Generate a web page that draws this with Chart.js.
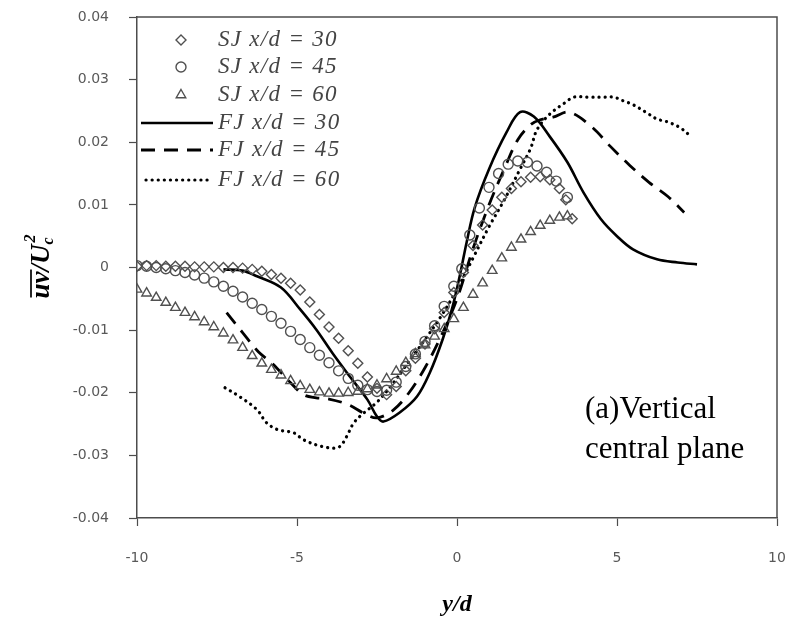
<!DOCTYPE html>
<html>
<head>
<meta charset="utf-8">
<script src="https://cdn.jsdelivr.net/npm/chart.js@4.4.0/dist/chart.umd.min.js"></script>
<style>
  html, body { margin: 0; padding: 0; background: #fff; }
  #wrap { width: 794px; height: 638px; }
</style>
</head>
<body>
<div id="wrap"><canvas id="chart" width="794" height="638"></canvas></div>
<script>
// ── DATA ───────────────────────────────────────────────
const X_TICKS = [-10, -5, 0, 5, 10];
const Y_TICKS = [-0.04, -0.03, -0.02, -0.01, 0, 0.01, 0.02, 0.03, 0.04];

// SJ x/d = 30 (diamonds)
const SJ30_X = [-10, -9.7, -9.4, -9.1, -8.8, -8.5, -8.2, -7.9, -7.6, -7.3, -7.0, -6.7, -6.4, -6.1, -5.8, -5.5, -5.2, -4.9, -4.6, -4.3, -4.0, -3.7, -3.4, -3.1, -2.8, -2.5, -2.2, -1.9, -1.6, -1.3, -1.0, -0.7, -0.4, -0.1, 0.2, 0.5, 0.8, 1.1, 1.4, 1.7, 2.0, 2.3, 2.6, 2.9, 3.2, 3.4, 3.6];
const SJ30_Y = [0.0002, 0.0003, 0.0003, 0.0002, 0.0002, 0.0002, 0.0001, 0.0001, 0.0001, 0.0, 0.0, -0.0001, -0.0003, -0.0006, -0.0011, -0.0017, -0.0025, -0.0036, -0.0055, -0.0075, -0.0095, -0.0113, -0.0133, -0.0153, -0.0175, -0.0193, -0.0203, -0.0190, -0.0165, -0.0145, -0.0122, -0.0098, -0.0072, -0.0040, -0.0008, 0.0035, 0.0068, 0.0092, 0.0112, 0.0126, 0.0137, 0.0144, 0.0145, 0.0140, 0.0126, 0.0108, 0.0078];

// SJ x/d = 45 (circles)
const SJ45_X = [-10, -9.7, -9.4, -9.1, -8.8, -8.5, -8.2, -7.9, -7.6, -7.3, -7.0, -6.7, -6.4, -6.1, -5.8, -5.5, -5.2, -4.9, -4.6, -4.3, -4.0, -3.7, -3.4, -3.1, -2.8, -2.5, -2.2, -1.9, -1.6, -1.3, -1.0, -0.7, -0.4, -0.1, 0.15, 0.4, 0.7, 1.0, 1.3, 1.6, 1.9, 2.2, 2.5, 2.8, 3.1, 3.45];
const SJ45_Y = [0.0003, 0.0002, 0.0, -0.0002, -0.0005, -0.0008, -0.0012, -0.0017, -0.0023, -0.0030, -0.0038, -0.0047, -0.0057, -0.0067, -0.0078, -0.0089, -0.0102, -0.0115, -0.0128, -0.0140, -0.0152, -0.0165, -0.0177, -0.0188, -0.0195, -0.0198, -0.0196, -0.0183, -0.0158, -0.0138, -0.0118, -0.0093, -0.0062, -0.0030, -0.0002, 0.0052, 0.0095, 0.0128, 0.0150, 0.0165, 0.0170, 0.0168, 0.0162, 0.0152, 0.0138, 0.0112];

// SJ x/d = 60 (triangles)
const SJ60_X = [-10, -9.7, -9.4, -9.1, -8.8, -8.5, -8.2, -7.9, -7.6, -7.3, -7.0, -6.7, -6.4, -6.1, -5.8, -5.5, -5.2, -4.9, -4.6, -4.3, -4.0, -3.7, -3.4, -3.1, -2.8, -2.5, -2.2, -1.9, -1.6, -1.3, -1.0, -0.7, -0.4, -0.1, 0.2, 0.5, 0.8, 1.1, 1.4, 1.7, 2.0, 2.3, 2.6, 2.9, 3.2, 3.45];
const SJ60_Y = [-0.0035, -0.0041, -0.0048, -0.0056, -0.0064, -0.0072, -0.0079, -0.0087, -0.0095, -0.0105, -0.0116, -0.0128, -0.0141, -0.0153, -0.0163, -0.0172, -0.0181, -0.0189, -0.0195, -0.0199, -0.0201, -0.0201, -0.0200, -0.0198, -0.0194, -0.0188, -0.0178, -0.0166, -0.0152, -0.0138, -0.0124, -0.0110, -0.0098, -0.0082, -0.0064, -0.0043, -0.0025, -0.0005, 0.0015, 0.0032, 0.0045, 0.0057, 0.0067, 0.0075, 0.0080, 0.0082];

// FJ x/d = 30 (solid)
const FJ30_X = [-7.3, -6.7, -6.25, -5.5, -4.9, -4.4, -3.9, -3.35, -2.8, -2.5, -2.3, -1.8, -1.25, -0.85, -0.45, -0.15, 0.1, 0.3, 0.55, 1.0, 1.55, 1.97, 2.4, 2.9, 3.45, 3.95, 4.5, 5.0, 5.5, 6.25, 6.9, 7.5];
const FJ30_Y = [-0.0003, -0.0005, -0.0014, -0.0032, -0.0067, -0.0099, -0.0136, -0.0174, -0.0211, -0.0238, -0.0246, -0.0232, -0.0206, -0.0168, -0.0115, -0.0065, -0.0010, 0.0040, 0.0095, 0.0157, 0.0216, 0.0248, 0.0241, 0.0209, 0.0168, 0.0120, 0.0077, 0.0050, 0.0029, 0.0013, 0.0008, 0.0005];

// FJ x/d = 45 (dashed)
const FJ45_X = [-7.2, -6.7, -6.2, -5.8, -5.2, -4.8, -4.4, -4.0, -3.4, -2.9, -2.5, -2.0, -1.5, -1.0, -0.5, 0.0, 0.5, 1.0, 1.5, 1.9, 2.3, 2.6, 3.0, 3.5, 4.2, 4.8, 5.4, 6.0, 6.6, 7.1];
const FJ45_Y = [-0.0072, -0.0104, -0.0135, -0.0152, -0.0184, -0.0203, -0.0208, -0.0210, -0.0219, -0.0233, -0.0240, -0.0228, -0.0200, -0.0160, -0.0110, -0.0050, 0.0030, 0.0100, 0.0160, 0.0204, 0.0228, 0.0236, 0.0240, 0.0248, 0.0225, 0.0193, 0.0163, 0.0136, 0.0113, 0.0088];

// FJ x/d = 60 (dotted)
const FJ60_X = [-7.25, -6.8, -6.25, -5.95, -5.6, -5.1, -4.8, -4.2, -3.7, -3.45, -3.25, -3.0, -2.5, -2.0, -1.5, -1.0, -0.5, 0.0, 0.5, 1.0, 1.5, 2.0, 2.3, 2.5, 2.9, 3.4, 3.65, 4.15, 4.6, 4.9, 5.2, 5.5, 5.9, 6.25, 6.55, 6.95, 7.3];
const FJ60_Y = [-0.0192, -0.0206, -0.0227, -0.0248, -0.0259, -0.0264, -0.0275, -0.0286, -0.0287, -0.0270, -0.0250, -0.0236, -0.0215, -0.0185, -0.0150, -0.0115, -0.0078, -0.0035, 0.0015, 0.0065, 0.0110, 0.0160, 0.0190, 0.0220, 0.0245, 0.0264, 0.0272, 0.0272, 0.0272, 0.0272, 0.0266, 0.0260, 0.0248, 0.0237, 0.0233, 0.0224, 0.0210];

const LEGEND_LABELS = ["SJ x/d = 30", "SJ x/d = 45", "SJ x/d = 60", "FJ x/d = 30", "FJ x/d = 45", "FJ x/d = 60"];

const pts = (xs, ys) => xs.map((x, i) => ({ x, y: ys[i] }));

// ── STYLES ─────────────────────────────────────────────
const MARK = "#505050";
const AXIS = "#4d4d4d";
const TICK_TEXT = "#595959";

function markerSet(label, xs, ys, style, r) {
  return {
    label, data: pts(xs, ys), showLine: false,
    pointStyle: style, pointRadius: r, pointBorderWidth: 1.4,
    borderColor: MARK, backgroundColor: "rgba(0,0,0,0)"
  };
}
function lineSet(label, xs, ys, dash, width, cap) {
  return {
    label, data: pts(xs, ys), showLine: true, pointRadius: 0,
    borderColor: "#000", borderWidth: width, borderDash: dash,
    borderCapStyle: cap || "butt", tension: 0.35, fill: false
  };
}

const datasets = [
  markerSet(LEGEND_LABELS[0], SJ30_X, SJ30_Y, "rectRot", 5),
  markerSet(LEGEND_LABELS[1], SJ45_X, SJ45_Y, "circle", 5),
  markerSet(LEGEND_LABELS[2], SJ60_X, SJ60_Y, "triangle", 5.5),
  lineSet(LEGEND_LABELS[3], FJ30_X, FJ30_Y, [], 2.6),
  lineSet(LEGEND_LABELS[4], FJ45_X, FJ45_Y, [14, 9], 2.8),
  lineSet(LEGEND_LABELS[5], FJ60_X, FJ60_Y, [0.1, 6], 3.2, "round")
];

// ── EXTRAS: box, legend, titles, note ──────────────────
const extras = {
  id: "extras",
  afterDraw(chart) {
    const { ctx, chartArea: a } = chart;
    ctx.save();

    // top + right frame
    ctx.strokeStyle = AXIS;
    ctx.lineWidth = 1.5;
    ctx.beginPath();
    ctx.moveTo(a.left, a.top);
    ctx.lineTo(a.right, a.top);
    ctx.lineTo(a.right, a.bottom);
    ctx.stroke();

    // legend
    const rows = [40, 67, 95, 123, 150, 180];
    const mx = 181, tx = 218;
    ctx.textBaseline = "middle";
    ctx.textAlign = "left";
    datasets.forEach((ds, i) => {
      const y = rows[i];
      if (i < 3) {
        ctx.strokeStyle = MARK;
        ctx.fillStyle = "rgba(0,0,0,0)";
        ctx.lineWidth = 1.4;
        Chart.helpers.drawPoint(ctx, {
          pointStyle: ds.pointStyle, radius: ds.pointRadius, rotation: 0, borderWidth: 1.4
        }, mx, y);
      } else {
        ctx.strokeStyle = "#000";
        ctx.lineWidth = ds.borderWidth;
        ctx.setLineDash(ds.borderDash);
        ctx.lineCap = ds.borderCapStyle;
        ctx.beginPath();
        ctx.moveTo(i === 5 ? 146 : 141, y);
        ctx.lineTo(213, y);
        ctx.stroke();
        ctx.setLineDash([]);
        ctx.lineCap = "butt";
      }
      ctx.font = "italic 23px 'Liberation Serif'";
      ctx.fillStyle = "#444";
      ctx.letterSpacing = "1.3px";
      ctx.fillText(LEGEND_LABELS[i], tx, y);
      ctx.letterSpacing = "0px";
    });

    // note
    ctx.fillStyle = "#000";
    ctx.font = "31px 'Liberation Serif'";
    ctx.fillText("(a)Vertical", 585, 410);
    ctx.fillText("central plane", 585, 450);

    // x title
    ctx.font = "bold italic 24px 'Liberation Serif'";
    ctx.textAlign = "center";
    ctx.fillText("y/d", (a.left + a.right) / 2, 605);

    // y title: overline uv / U_c^2
    ctx.translate(40, (a.top + a.bottom) / 2);
    ctx.rotate(-Math.PI / 2);
    ctx.textAlign = "left";
    ctx.textBaseline = "alphabetic";
    const big = "bold italic 27px 'Liberation Serif'";
    const small = "bold italic 16px 'Liberation Serif'";
    ctx.font = big;
    const wUv = ctx.measureText("uv").width;
    const wU = ctx.measureText("/U").width;
    ctx.font = small;
    const wS = Math.max(ctx.measureText("c").width, ctx.measureText("2").width);
    const x0 = -(wUv + wU + wS) / 2;
    const base = 9;
    ctx.font = big;
    ctx.fillText("uv", x0, base);
    ctx.lineWidth = 1.7;
    ctx.strokeStyle = "#000";
    ctx.beginPath();
    ctx.moveTo(x0 + 1, base - 18);
    ctx.lineTo(x0 + wUv + 2, base - 18);
    ctx.stroke();
    ctx.fillText("/U", x0 + wUv, base);
    ctx.font = small;
    ctx.fillText("c", x0 + wUv + wU, base + 4);
    ctx.fillText("2", x0 + wUv + wU + 2, base - 14);

    ctx.restore();
  }
};

// ── CHART ──────────────────────────────────────────────
new Chart(document.getElementById("chart"), {
  type: "scatter",
  data: { datasets },
  options: {
    responsive: false,
    animation: false,
    devicePixelRatio: 1,
    layout: { padding: { top: 17, right: 17, left: 0, bottom: 0 } },
    plugins: { legend: { display: false }, tooltip: { enabled: false } },
    scales: {
      x: {
        type: "linear", min: -10, max: 10,
        afterFit: s => { s.height = 120; s.paddingLeft = 0; s.paddingRight = 0; },
        afterBuildTicks: s => { s.ticks = X_TICKS.map(v => ({ value: v })); },
        ticks: { color: TICK_TEXT, padding: 24, font: { family: "DejaVu Sans", size: 14 } },
        grid: { drawOnChartArea: false, tickLength: 8, color: AXIS, tickWidth: 1.2 },
        border: { color: AXIS, width: 1.5 }
      },
      y: {
        type: "linear", min: -0.04, max: 0.04,
        afterFit: s => { s.width = 137; s.paddingTop = 0; s.paddingBottom = 0; },
        afterBuildTicks: s => { s.ticks = Y_TICKS.map(v => ({ value: v })); },
        ticks: {
          color: TICK_TEXT, padding: 20, font: { family: "DejaVu Sans", size: 14 },
          callback: v => Math.abs(v) < 1e-9 ? "0" : (+v.toFixed(2)).toString()
        },
        grid: { drawOnChartArea: false, tickLength: 8, color: AXIS, tickWidth: 1.2 },
        border: { color: AXIS, width: 1.5 }
      }
    }
  },
  plugins: [extras]
});
</script>
</body>
</html>
